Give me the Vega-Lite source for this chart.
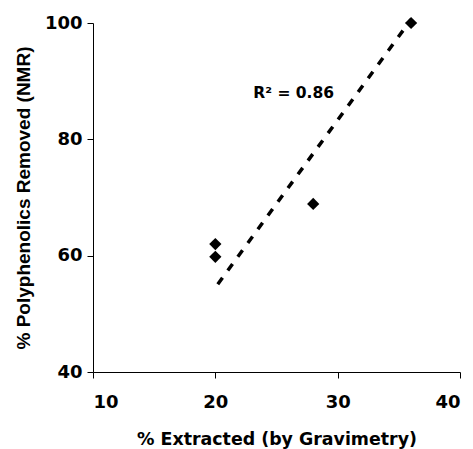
{
  "$schema": "https://vega.github.io/schema/vega-lite/v6.json",
  "width": 367,
  "height": 349,
  "autosize": "none",
  "padding": {"left": 93, "top": 23, "right": 13, "bottom": 77},
  "background": "white",
  "config": {
    "view": {"stroke": null},
    "font": "DejaVu Sans",
    "axis": {
      "grid": false,
      "domainColor": "black",
      "tickColor": "black",
      "labelFont": "DejaVu Sans",
      "labelFontWeight": "bold",
      "labelFontSize": 18,
      "labelColor": "black",
      "titleFontWeight": "bold",
      "titleColor": "black",
      "tickSize": 6
    }
  },
  "datasets": {
    "pts": [
      {"x": 20, "y": 62},
      {"x": 20, "y": 59.8},
      {"x": 28, "y": 68.9},
      {"x": 36, "y": 100}
    ],
    "trend": [
      {"x": 20.2, "y": 55.1},
      {"x": 36, "y": 100.6}
    ],
    "lab": [
      {"x": 23.1, "y": 87.9, "t": "R² = 0.86"}
    ]
  },
  "layer": [
    {
      "data": {"name": "trend"},
      "mark": {"type": "line", "color": "black", "strokeWidth": 3.5, "strokeDash": [8, 9], "clip": false},
      "encoding": {
        "x": {"field": "x", "type": "quantitative", "scale": {"domain": [10, 40], "nice": false, "zero": false},
          "axis": {"values": [10, 20, 30, 40], "title": "% Extracted (by Gravimetry)", "titleFont": "DejaVu Sans", "titleFontSize": 17.4, "labelPadding": 15, "titlePadding": 19}},
        "y": {"field": "y", "type": "quantitative", "scale": {"domain": [40, 100], "nice": false, "zero": false},
          "axis": {"values": [40, 60, 80, 100], "title": "% Polyphenolics Removed (NMR)", "titleFont": "Liberation Sans", "titleFontSize": 19, "labelPadding": 5, "titlePadding": 11}}
      }
    },
    {
      "data": {"name": "pts"},
      "mark": {"type": "point", "shape": "diamond", "filled": true, "color": "black", "opacity": 1, "size": 150, "clip": false},
      "encoding": {
        "x": {"field": "x", "type": "quantitative"},
        "y": {"field": "y", "type": "quantitative"}
      }
    },
    {
      "data": {"name": "lab"},
      "mark": {"type": "text", "align": "left", "baseline": "middle", "fontWeight": "bold", "fontSize": 15.5, "font": "DejaVu Sans", "color": "black"},
      "encoding": {
        "x": {"field": "x", "type": "quantitative"},
        "y": {"field": "y", "type": "quantitative"},
        "text": {"field": "t"}
      }
    }
  ]
}
